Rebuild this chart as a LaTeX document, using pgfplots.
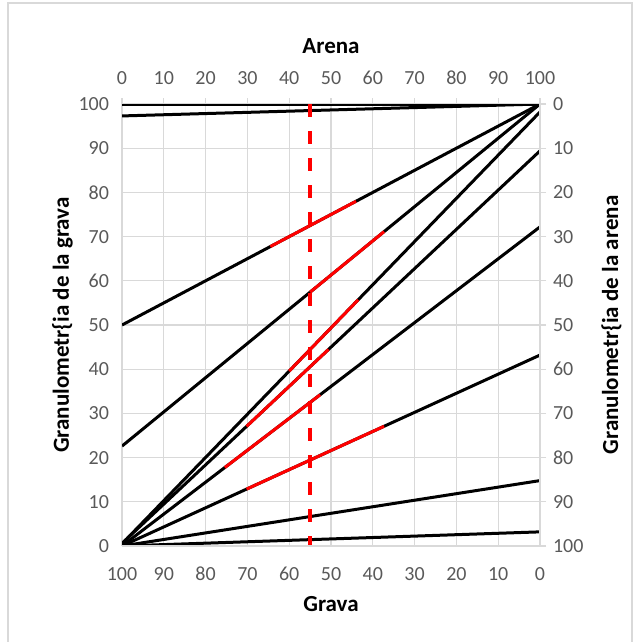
\documentclass[border=0pt]{standalone}
\usepackage{fontspec}
\setmainfont{Carlito}[BoldFont={Carlito Bold}]
\usepackage{pgfplots}
\pgfplotsset{compat=1.18}
\definecolor{txt}{HTML}{595959}
\definecolor{gridc}{HTML}{D9D9D9}
\newcommand{\lab}[1]{{\fontsize{11.5}{13}\selectfont\bfseries #1}}
\begin{document}
\begin{tikzpicture}
\useasboundingbox (0,0) rectangle (319.5pt,-321pt);
\draw[gridc, line width=0.6pt] (4pt,-1.5pt) rectangle (316pt,-330pt);
\pgfplotsset{
  common/.style={
    width=209pt, height=221pt, scale only axis,
    at={(61pt,-273pt)}, anchor=south west,
    xmin=0, xmax=100, ymin=0, ymax=100,
    xtick={0,10,...,100}, ytick={0,10,...,100},
    tick label style={font=\fontsize{10}{12}\selectfont, text=txt},
    label style={text=txt},
    /pgf/number format/assume math mode=true,
    axis line style={gridc, line width=0.6pt},
    major tick style={gridc, line width=0.6pt},
    tick align=outside, major tick length=3pt,
  }
}
% main axis: Arena (top) and grava granulometry (left)
\begin{axis}[
  common,
  axis x line*=top, axis y line*=left,
  ytick style={draw=none},
  grid=major, grid style={gridc, line width=0.6pt},
  xlabel={\lab{Arena}},
  ylabel={\lab{Granulometr\{ia de la grava}},
  ylabel near ticks, xlabel near ticks,
  xticklabel style={yshift=3pt},
  xlabel style={yshift=2pt},
  ylabel style={yshift=-4pt},
]
\addplot[black, line width=1.5pt] coordinates {(0,100) (100,100)};
\addplot[black, line width=1.5pt] coordinates {(0,97.3) (100,100)};
\addplot[black, line width=1.5pt] coordinates {(0,50) (100,100)};
\addplot[black, line width=1.5pt] coordinates {(0,22.6) (100,100)};
\addplot[black, line width=1.5pt] coordinates {(0,0.5) (100,98.2)};
\addplot[black, line width=1.5pt] coordinates {(0,0.6) (100,89.4)};
\addplot[black, line width=1.5pt] coordinates {(0,0) (100,72.2)};
\addplot[black, line width=1.5pt] coordinates {(0,0) (100,43.2)};
\addplot[black, line width=1.5pt] coordinates {(0,0) (100,14.8)};
\addplot[black, line width=1.5pt] coordinates {(0,0) (100,3.2)};
% red segments
\addplot[red, line width=1.5pt] coordinates {(35.5,67.75) (56,78)};
\addplot[red, line width=1.5pt] coordinates {(45,57.43) (62.7,71.13)};
\addplot[red, line width=1.5pt] coordinates {(40,39.58) (56.5,55.7)};
\addplot[red, line width=1.5pt] coordinates {(29.8,27.06) (49.4,44.47)};
\addplot[red, line width=1.5pt] coordinates {(24.6,17.76) (47.4,34.22)};
\addplot[red, line width=1.5pt] coordinates {(29.8,12.87) (62.7,27.09)};
% dashed line at 45 % arena
\addplot[red, line width=2.3pt, dash pattern=on 6.5pt off 7pt] coordinates {(45,100) (45,0)};
\end{axis}
% secondary axis: Grava (bottom) and arena granulometry (right)
\begin{axis}[
  common,
  x dir=reverse, y dir=reverse,
  axis x line*=bottom, axis y line*=right,
  xtick style={draw=none},
  xlabel={\lab{Grava}},
  ylabel={\lab{Granulometr\{ia de  la arena}},
  ylabel near ticks, xlabel near ticks,
  xticklabel style={yshift=-4pt},
  xlabel style={yshift=-1pt},
  ylabel style={yshift=-2pt},
]
\end{axis}
\end{tikzpicture}
\end{document}
